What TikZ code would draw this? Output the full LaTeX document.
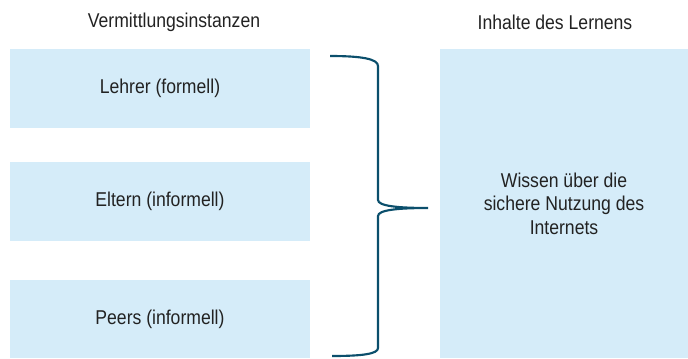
\documentclass[tikz,border=0pt]{standalone}
\usepackage{fontspec}
\setmainfont[FakeStretch=0.88]{Liberation Sans}
\definecolor{boxblue}{HTML}{D5ECF9}
\definecolor{bracecol}{HTML}{0B4F6C}
\definecolor{textcol}{HTML}{222222}

\begin{document}
\begin{tikzpicture}[x=0.75pt, y=0.75pt,
  every node/.style = {text=textcol, font=\fontsize{15}{17.6}\selectfont},
  instanz/.style = {shape=rectangle, fill=boxblue, minimum width=225pt,
    minimum height=59.5pt, inner sep=0pt},
  inhalt/.style = {shape=rectangle, fill=boxblue, align=center,
    minimum width=186pt, minimum height=232pt, inner sep=0pt},
  klammer/.style = {draw=bracecol, line width=1.6pt}]

\useasboundingbox (0,0) rectangle (688,358);

% Spaltentitel
\node (titelL) at (174,336) {Vermittlungsinstanzen};
\node (titelR) at (555,336) {Inhalte des Lernens};

% Vermittlungsinstanzen
\node[instanz] (lehrer) at (160,269.5) {Lehrer (formell)};
\node[instanz] (eltern) at (160,156.5) {Eltern (informell)};
\node[instanz, minimum height=58.5pt] (peers) at (160,39) {Peers (informell)};

% Inhalte
\node[inhalt] (wissen) at (564,154.5)
  {Wissen über die\\sichere Nutzung des\\Internets};

% geschweifte Klammer
\coordinate (oben) at (330,302);
\coordinate (spitze) at (428,150);
\coordinate (unten) at (332,2);
\draw[klammer] (oben) .. controls (362,302) and (378,299) .. (378,292)
  -- (378,158) .. controls (378,152) and (398,150) .. (spitze)
  .. controls (398,150) and (378,148) .. (378,142)
  -- (378,10) .. controls (378,4) and (362,2) .. (unten);
\end{tikzpicture}
\end{document}
